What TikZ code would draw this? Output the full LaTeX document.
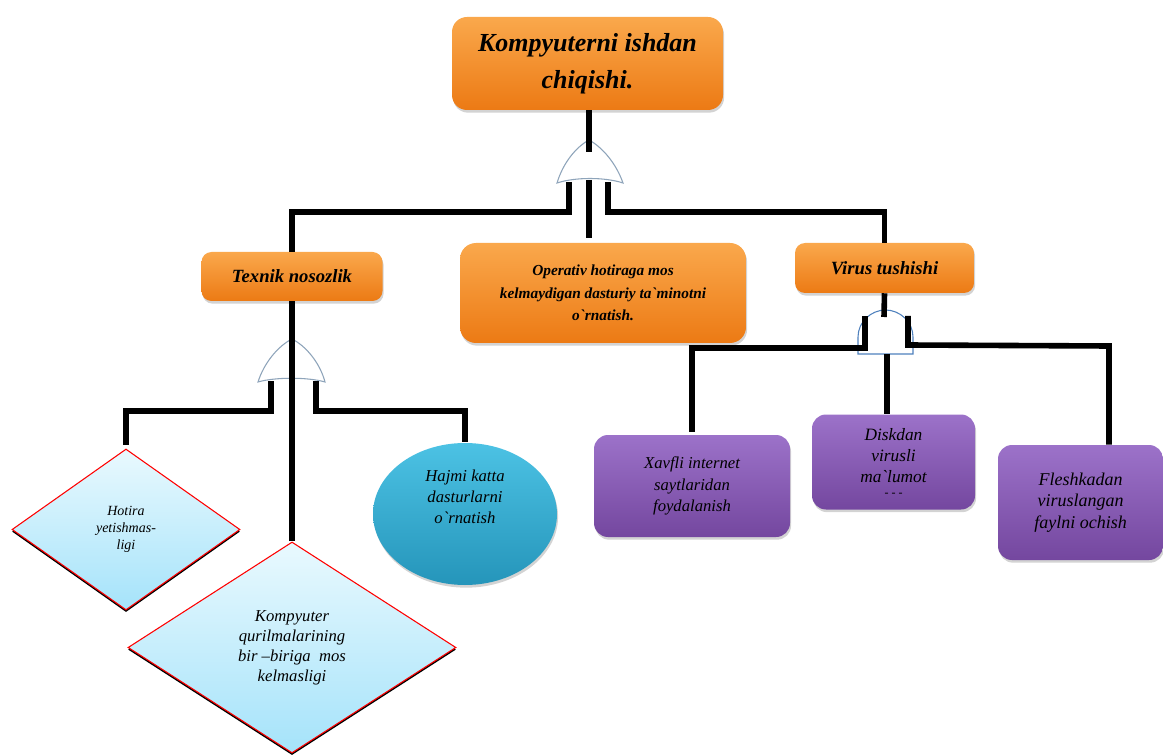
\documentclass[tikz,border=0pt]{standalone}
\usepackage{fontspec}
\setmainfont{Liberation Serif}
\usetikzlibrary{shapes.geometric,shadows}
\newdimen\pxu \pxu=0.75pt
\definecolor{orT}{HTML}{FAA84C}
\definecolor{orB}{HTML}{EC7A14}
\definecolor{puT}{HTML}{9C72C9}
\definecolor{puB}{HTML}{74479F}
\definecolor{diT}{HTML}{E9F9FE}
\definecolor{diB}{HTML}{A5E3FA}
\definecolor{elT}{HTML}{4CC2E4}
\definecolor{elB}{HTML}{2595BA}
\definecolor{gateor}{HTML}{8EA4BA}
\definecolor{gateand}{HTML}{4F81BD}
\tikzset{
  boxshadow/.style={drop shadow={opacity=0.35,shadow xshift=0.8pt,shadow yshift=-2pt}},
  obox/.style={rectangle, rounded corners=10\pxu, top color=orT, bottom color=orB, boxshadow,
    align=center, inner sep=0pt, font=\bfseries\itshape},
  pbox/.style={rectangle, rounded corners=14\pxu, top color=puT, bottom color=puB, boxshadow,
    align=center, inner sep=0pt, font=\itshape},
  dia/.style={diamond, draw=red, line width=0.8pt, top color=diT, bottom color=diB,
    align=center, inner sep=0pt, font=\itshape,
    drop shadow={opacity=1,fill=black,shadow xshift=0pt,shadow yshift=-1.6pt}},
  ell/.style={ellipse, top color=elT, bottom color=elB, boxshadow, align=center,
    inner sep=0pt, font=\itshape},
  wire/.style={line width=4.2pt, black, line join=miter},
  orgate/.style={fill=white, draw=gateor, line width=0.8pt},
  andgate/.style={fill=white, draw=gateand, line width=0.8pt},
}
\begin{document}
\begin{tikzpicture}[x=0.75pt,y=-0.75pt]
\useasboundingbox (0,0) rectangle (1163,755);

% ---- nodes ----
\node[obox, rounded corners=15\pxu, minimum width=271\pxu, minimum height=93\pxu,
  font=\bfseries\itshape\fontsize{19.5}{27.5}\selectfont] (top) at (587.5,63.5)
  {Kompyuterni ishdan\\chiqishi.};
\node[obox, minimum width=181\pxu, minimum height=49\pxu,
  font=\bfseries\itshape\fontsize{14}{16}\selectfont] (tex) at (292,276.5)
  {Texnik nosozlik};
\node[obox, rounded corners=16\pxu, minimum width=286\pxu, minimum height=100\pxu,
  font=\bfseries\itshape\fontsize{11.5}{17}\selectfont] (oper) at (603,293)
  {Operativ hotiraga mos\\kelmaydigan dasturiy ta\textasciigrave minotni\\o\textasciigrave rnatish.};
\node[obox, minimum width=179\pxu, minimum height=50\pxu,
  font=\bfseries\itshape\fontsize{14}{16}\selectfont] (vir) at (884.5,268)
  {Virus tushishi};

\node[dia, minimum width=228\pxu, minimum height=161\pxu,
  font=\itshape\fontsize{10.5}{13}\selectfont] (hot) at (126,529.5)
  {Hotira\\yetishmas-\\ligi};
\node[dia, minimum width=328\pxu, minimum height=211\pxu,
  font=\itshape\fontsize{12.5}{15}\selectfont] (kom) at (292,647.5)
  {Kompyuter\\qurilmalarining\\bir –biriga\ \ mos\\kelmasligi};
\node[ell, minimum width=184\pxu, minimum height=142\pxu,
  font=\itshape\fontsize{12.5}{16}\selectfont] (ell) at (465,514)
  {Hajmi katta\\dasturlarni\\o\textasciigrave rnatish\\[10pt]};

\node[pbox, minimum width=196\pxu, minimum height=102\pxu,
  font=\itshape\fontsize{12.5}{16}\selectfont] (xav) at (692,486)
  {Xavfli internet\\saytlaridan\\foydalanish};
\node[pbox, minimum width=163\pxu, minimum height=95\pxu,
  font=\itshape\fontsize{13}{16}\selectfont] (dis) at (893.5,462)
  {Diskdan\\virusli\\ma\textasciigrave lumot\\[-6pt]{\fontsize{9}{9}\selectfont - - -}};
\node[pbox, minimum width=165\pxu, minimum height=115\pxu,
  font=\itshape\fontsize{13.5}{16}\selectfont] (fle) at (1080.5,502.5)
  {Fleshkadan\\viruslangan\\faylni ochish};

% ---- gates ----
\draw[orgate] (557,183) .. controls (563,163) and (576,147) .. (589,140)
  .. controls (602,147) and (616,163) .. (623,183)
  .. controls (605,177) and (575,177) .. (557,183) -- cycle;
\draw[orgate] (258,382) .. controls (264,363) and (278,346) .. (292,339)
  .. controls (306,346) and (320,363) .. (325,382)
  .. controls (308,377) and (275,377) .. (258,382) -- cycle;
\draw[andgate] (858,354) -- (858,337) .. controls (858,322) and (871,310) .. (885.5,310)
  .. controls (900,310) and (913,322) .. (913,337) -- (913,354) -- cycle;

% ---- coordinates ----
\coordinate (g1in) at (589,152);
\coordinate (g1l) at (569,182);
\coordinate (g1lb) at (569,212);
\coordinate (g1m) at (589,180);
\coordinate (g1r) at (608,182);
\coordinate (g1rb) at (608,212);
\coordinate (g2l) at (271,381);
\coordinate (g2lb) at (271,411);
\coordinate (g2r) at (316,381);
\coordinate (g2rb) at (316,411);
\coordinate (g3in) at (884,317);
\coordinate (g3l) at (865,316);
\coordinate (g3lb) at (865,348);
\coordinate (g3m) at (887,354);
\coordinate (g3r) at (908,316);
\coordinate (g3rb) at (908,345);
\coordinate (g3rc) at (1109,346);

% ---- wires ----
\draw[wire] (g1in |- top.south) -- (g1in);
\draw[wire] (g1l) -- (g1lb) -| (tex.north);
\draw[wire, shorten >=5\pxu] (g1m) -- (g1m |- oper.north);
\draw[wire] (g1r) -- (g1rb) -| (vir.north);

\draw[wire] (tex.south) -- (kom.north);
\draw[wire, shorten >=3\pxu] (g2l) -- (g2lb) -| (hot.north);
\draw[wire, shorten >=1\pxu] (g2r) -- (g2rb) -| (ell.north);

\draw[wire] (vir.south) -- (g3in);
\draw[wire, shorten >=3\pxu] (g3l) -- (g3lb) -| (xav.north);
\draw[wire] (g3m) -- (g3m |- dis.north);
\draw[wire] (g3r) -- (g3rb) -- (g3rc) -- (g3rc |- fle.north);
\end{tikzpicture}
\end{document}
